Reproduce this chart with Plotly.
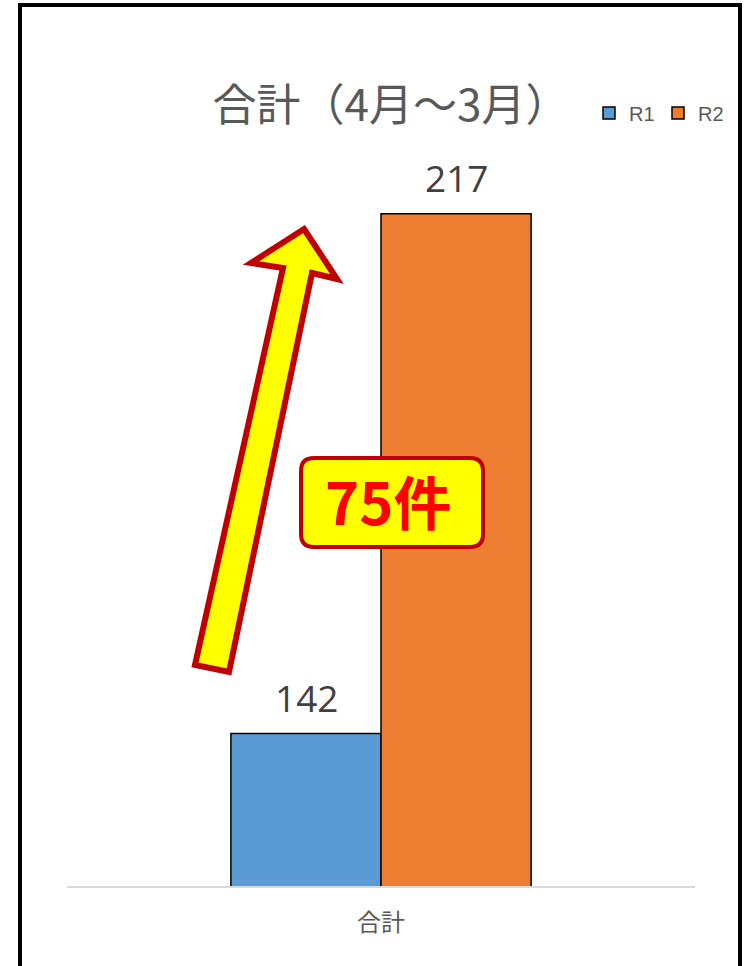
import plotly.graph_objects as go

# ---- data ----
categories = ["合計"]
series_names = ["R1", "R2"]
r1_values = [142]
r2_values = [217]
series_colors = ["#5B9BD5", "#ED7D31"]
title_text = "合計（4月～3月）"
callout_text = "75件"

W, H = 748, 966
# plot area in pixels: x 67..695, y 193..886
SX0, SX1, SY0, SY1 = 67, 695, 193, 886
L, T, R, B = SX0, SY0, W - SX1, H - SY1
PW, PH = SX1 - SX0, SY1 - SY0


def px(x):
    return (x - SX0) / PW


def py(y):
    return (SY1 - y) / PH


fig = go.Figure()
for name, vals, col in zip(series_names, [r1_values, r2_values], series_colors):
    fig.add_trace(go.Bar(
        x=categories, y=vals, name=name,
        marker=dict(color=col, line=dict(color="black", width=1.5)),
        hoverinfo="skip",
    ))

# data labels
for vals, shift in zip([r1_values, r2_values], [-75, 75]):
    for c, v in zip(categories, vals):
        fig.add_annotation(x=c, y=v, text=str(v), showarrow=False,
                           xshift=shift, yanchor="bottom", yshift=9,
                           font=dict(family="Open Sans", size=37, color="#404040"))

# arrow polygon (pixel coords -> paper)
arrow_pts = [(304, 229), (337, 279), (312, 273), (229, 672), (195, 665),
             (283, 268), (251, 263)]
path = "M " + " L ".join(f"{px(x):.5f},{py(y):.5f}" for x, y in arrow_pts) + " Z"
fig.add_shape(type="path", xref="paper", yref="paper", path=path,
              fillcolor="#FFFF00", line=dict(color="#C00000", width=6), layer="above")

# rounded callout box
x0, x1, y0, y1, r = 301, 483, 458, 547, 13


def P(x, y):
    return f"{px(x):.5f},{py(y):.5f}"


box = (f"M {P(x0 + r, y0)} L {P(x1 - r, y0)} Q {P(x1, y0)} {P(x1, y0 + r)} "
       f"L {P(x1, y1 - r)} Q {P(x1, y1)} {P(x1 - r, y1)} "
       f"L {P(x0 + r, y1)} Q {P(x0, y1)} {P(x0, y1 - r)} "
       f"L {P(x0, y0 + r)} Q {P(x0, y0)} {P(x0 + r, y0)} Z")
fig.add_shape(type="path", xref="paper", yref="paper", path=box,
              fillcolor="#FFFF00", line=dict(color="#C00000", width=4), layer="above")
fig.add_annotation(xref="paper", yref="paper", x=px(388), y=py(500),
                   text=f"<b>{callout_text}</b>", showarrow=False,
                   font=dict(family="Noto Sans CJK JP", size=58, color="#FF0000"))

# outer frame
fig.add_shape(type="rect", xref="paper", yref="paper",
              x0=px(20), x1=px(740), y0=py(990), y1=py(5),
              line=dict(color="black", width=4), fillcolor="rgba(0,0,0,0)", layer="above")

fig.update_layout(
    width=W, height=H,
    margin=dict(l=L, r=R, t=T, b=B),
    paper_bgcolor="white", plot_bgcolor="white",
    font=dict(family="Noto Sans CJK JP", color="#595959"),
    title=dict(text=title_text, x=391 / W, xanchor="center",
               y=1 - 106 / H, yanchor="middle",
               font=dict(family="Noto Sans CJK JP", size=44, color="#595959")),
    barmode="group", bargap=0.522, bargroupgap=0,
    showlegend=True,
    legend=dict(orientation="h", x=px(589), xanchor="left", y=py(113), yanchor="middle",
                font=dict(family="Liberation Sans", size=20, color="#595959"),
                bgcolor="rgba(0,0,0,0)", itemclick=False, entrywidth=24),
    xaxis=dict(showline=True, linecolor="#D9D9D9", linewidth=2, showgrid=False,
               ticks="outside", ticklen=14, tickcolor="rgba(0,0,0,0)",
               tickfont=dict(family="Noto Sans CJK JP", size=24, color="#595959")),
    yaxis=dict(range=[120, 220], visible=False, showgrid=False),
)

fig.write_html(
    "out.html",
    config={"displayModeBar": False},
    post_script="document.body.style.margin='0';document.body.style.overflow='hidden';",
)
